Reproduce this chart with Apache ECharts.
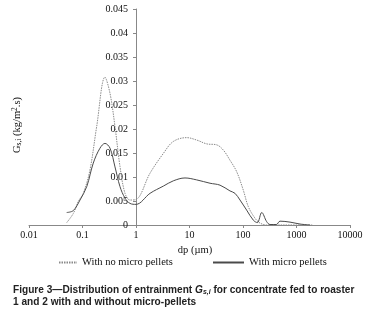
<!DOCTYPE html>
<html>
<head>
<meta charset="utf-8">
<script src="https://cdn.jsdelivr.net/npm/echarts@6/dist/echarts.min.js"></script>
<style>
  html, body { margin: 0; padding: 0; background: #fff; }
  #main { width: 369px; height: 321px; }
</style>
</head>
<body>
<div id="main"></div>
<script>
// particle size dp (um) and entrainment Gs,i (kg/m2.s)
var dpNoPellets = [0.0507, 0.0673, 0.0834, 0.1035, 0.138, 0.184, 0.263, 0.327, 0.405, 0.502, 0.623, 0.773, 1.0,
  1.83, 3.24, 4.98, 8.87, 13.6, 21.0, 32.2, 42.9, 57.1, 76.2, 101, 126, 168, 208, 277, 1000, 2000];
var gNoPellets = [0.0005, 0.0024, 0.0049, 0.0066, 0.0115, 0.0205, 0.0308, 0.0274, 0.0205, 0.0122, 0.0066, 0.0052, 0.0053,
  0.0108, 0.0149, 0.0174, 0.0182, 0.0177, 0.0169, 0.0167, 0.0156, 0.0135, 0.0111, 0.0073, 0.0038, 0.0014, 0.0004, 0.0, 0.0, 0.0];

var dpPellets = [0.0507, 0.0673, 0.0898, 0.12, 0.159, 0.212, 0.263, 0.327, 0.405, 0.502, 0.623, 0.773, 1.0,
  1.83, 3.24, 4.98, 8.24, 13.6, 24.2, 37.2, 57.1, 70.8, 87.9, 117, 156, 185, 224, 277, 320, 420, 492, 756, 1162, 1787];
var gPellets = [0.0026, 0.003, 0.0052, 0.008, 0.0129, 0.016, 0.017, 0.016, 0.0121, 0.008, 0.0056, 0.0045, 0.0043,
  0.0066, 0.0081, 0.0092, 0.0098, 0.0094, 0.0087, 0.0083, 0.0071, 0.0066, 0.0052, 0.0031, 0.001, 0.0005, 0.0026, 0.0007, 0.0001, 0.0001, 0.0008, 0.0006, 0.0002, 0.0];

var xTickLabels = ['0.01', '0.1', '1', '10', '100', '1000', '10000'];
var yTickLabels = ['0', '0.005', '0.01', '0.015', '0.02', '0.025', '0.03', '0.035', '0.04', '0.045'];

function zip(xs, ys) {
  var out = [];
  for (var i = 0; i < xs.length; i++) out.push([xs[i], ys[i]]);
  return out;
}

var serif = 'Liberation Serif';
var sans = 'Liberation Sans';

// caption font is a narrow bold sans, squeeze a normal one to the same width
var captionLine1 = 'Figure 3\u2014Distribution of entrainment Gs,i for concentrate fed to roaster';
var ctx = document.createElement('canvas').getContext('2d');
ctx.font = 'bold 11px "' + sans + '"';
var capScale = 345 / ctx.measureText(captionLine1).width;

var chart = echarts.init(document.getElementById('main'), null, { renderer: 'canvas' });

var option = {
  backgroundColor: '#fff',
  animation: false,
  grid: { left: 29, right: 19, top: 9, bottom: 96 },
  legend: [
    {
      data: ['With no micro pellets'],
      left: 53, top: 252,
      itemWidth: 18, itemHeight: 8,
      itemStyle: { opacity: 0 },
      textStyle: { fontFamily: serif, fontSize: 10.5, color: '#111' }
    },
    {
      data: ['With micro pellets'],
      left: 207, top: 252,
      itemWidth: 31, itemHeight: 8,
      itemStyle: { opacity: 0 },
      textStyle: { fontFamily: serif, fontSize: 10.5, color: '#111' }
    }
  ],
  xAxis: {
    type: 'log',
    logBase: 10,
    min: 0.01,
    max: 10000,
    name: 'dp (\u00b5m)',
    nameLocation: 'middle',
    nameGap: 18,
    nameTextStyle: { fontFamily: serif, fontSize: 10.5, color: '#111', padding: [0, 0, 0, 11] },
    axisLine: { lineStyle: { color: '#888', width: 1 } },
    axisTick: { show: true, length: 3, lineStyle: { color: '#888' } },
    minorTick: { show: false },
    splitLine: { show: false },
    axisLabel: {
      fontFamily: serif, fontSize: 10, color: '#111', margin: 5,
      formatter: function (v, i) { return xTickLabels[i]; }
    }
  },
  yAxis: {
    type: 'value',
    min: 0,
    max: 0.045,
    interval: 0.005,
    offset: -107,
    axisLine: { show: true, lineStyle: { color: '#888', width: 1 } },
    axisTick: { show: true, length: 3, lineStyle: { color: '#888' } },
    splitLine: { show: false },
    axisLabel: {
      fontFamily: serif, fontSize: 10, color: '#111', margin: 8,
      formatter: function (v, i) { return yTickLabels[i]; }
    }
  },
  series: [
    {
      name: 'With no micro pellets',
      type: 'line',
      data: zip(dpNoPellets, gNoPellets),
      smooth: 0.35,
      symbol: 'none',
      lineStyle: { color: '#8a8a8a', width: 1, type: [1.5, 1] },
      itemStyle: { color: '#8a8a8a' }
    },
    {
      name: 'With micro pellets',
      type: 'line',
      data: zip(dpPellets, gPellets),
      smooth: 0.35,
      symbol: 'none',
      lineStyle: { color: '#4a4a4a', width: 1 },
      itemStyle: { color: '#4a4a4a' }
    }
  ],
  graphic: [
    {
      type: 'text',
      x: 17, y: 125,
      rotation: Math.PI / 2,
      style: {
        text: '{n|G}{sub|s,i}{n| (kg/m}{sup|2}{n|.s)}',
        align: 'center',
        verticalAlign: 'middle',
        fill: '#111',
        rich: {
          n: { fontFamily: serif, fontSize: 10.5, fill: '#111' },
          sub: { fontFamily: serif, fontSize: 7.5, fill: '#111', verticalAlign: 'bottom', padding: [4, 0, 0, 0] },
          sup: { fontFamily: serif, fontSize: 7.5, fill: '#111', verticalAlign: 'top' }
        }
      }
    },
    {
      type: 'text',
      x: 13, y: 284,
      scaleX: capScale,
      style: {
        text: '{b|Figure 3\u2014Distribution of entrainment }{i|G}{s|s,i}{b| for concentrate fed to roaster}\n{b|1 and 2 with and without micro-pellets}',
        fill: '#222',
        lineHeight: 12,
        rich: {
          b: { fontFamily: sans, fontWeight: 'bold', fontSize: 11, fill: '#222', lineHeight: 12 },
          i: { fontFamily: sans, fontWeight: 'bold', fontStyle: 'italic', fontSize: 11, fill: '#222', lineHeight: 12 },
          s: { fontFamily: sans, fontWeight: 'bold', fontStyle: 'italic', fontSize: 7.5, fill: '#222', verticalAlign: 'bottom', lineHeight: 12 }
        }
      }
    }
  ]
};

chart.setOption(option);
</script>
</body>
</html>
